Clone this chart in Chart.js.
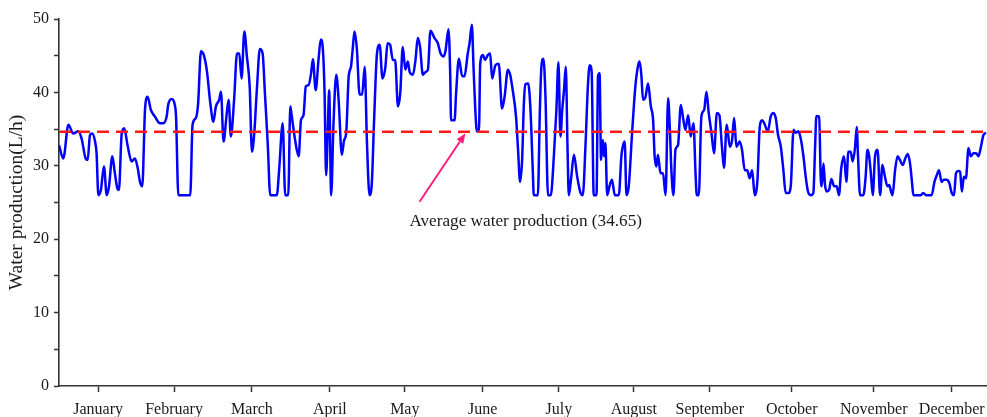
<!DOCTYPE html>
<html>
<head>
<meta charset="utf-8">
<script src="https://cdn.jsdelivr.net/npm/chart.js@4.4.1/dist/chart.umd.min.js"></script>
<style>
  html, body { margin: 0; padding: 0; background: #ffffff; }
  #wrap { width: 987px; height: 417px; position: relative; }
</style>
</head>
<body>
<div id="wrap"><canvas id="c" width="987" height="417"></canvas></div>
<script>
// ---- data ----
const months = ['January','February','March','April','May','June','July','August','September','October','November','December'];
const monthTickDays = [15.4, 45.3, 76.0, 106.7, 136.2, 166.9, 196.9, 226.4, 256.3, 288.6, 320.9, 351.6];

const days = [
  0.0, 1.7, 3.7, 5.6, 7.6, 8.9, 10.5, 11.3, 12.2, 13.1, 14.2, 14.8, 15.5, 16.5, 17.7, 18.8, 19.7, 21.0, 22.0, 23.0,
  23.6, 24.7, 25.7, 27.0, 28.6, 29.9, 31.0, 31.9, 32.8, 33.9, 34.9, 36.2, 37.8, 39.8, 41.1, 42.4, 43.0, 44.4, 45.6, 46.1,
  47.0, 51.7, 52.6, 53.9, 54.8, 55.9, 57.0, 58.3, 59.6, 60.8, 61.8, 63.1, 63.8, 64.8, 66.0, 66.8, 67.7, 69.0, 70.1, 71.0,
  71.9, 73.0, 74.0, 75.1, 76.0, 76.9, 78.0, 79.1, 80.2, 81.1, 82.2, 83.2, 85.8, 86.7, 88.1, 89.1, 90.3, 91.1, 91.7, 93.0,
  94.4, 95.3, 96.3, 97.2, 98.3, 99.2, 100.0, 101.1, 102.2, 103.1, 103.9, 104.6, 105.2, 105.9, 106.4, 107.2, 108.1, 109.2, 110.1, 111.4,
  112.3, 113.1, 114.1, 115.0, 115.6, 116.4, 117.3, 118.4, 119.4, 120.4, 121.3, 122.3, 123.2, 124.1, 125.2, 126.3, 127.4, 128.5, 129.4, 130.4,
  131.5, 132.4, 133.5, 134.4, 135.4, 136.4, 137.4, 138.1, 139.4, 140.4, 141.3, 142.2, 143.3, 144.4, 145.3, 146.3, 147.9, 149.2, 150.3, 151.5,
  152.2, 153.4, 154.1, 154.4, 155.8, 156.4, 157.5, 158.8, 159.7, 161.0, 161.7, 162.6, 163.3, 163.9, 164.6, 165.4, 165.9, 167.0, 167.8, 168.9,
  169.8, 170.6, 171.9, 173.2, 174.5, 175.5, 176.8, 177.7, 178.7, 180.0, 180.8, 181.6, 182.4, 183.1, 183.7, 184.8, 185.7, 186.6, 187.0, 188.6,
  189.4, 190.0, 190.8, 191.6, 192.6, 193.7, 194.9, 195.9, 196.7, 197.5, 198.2, 198.9, 199.6, 200.3, 200.8, 201.7, 202.8, 204.1, 205.4, 206.3,
  207.4, 208.3, 209.0, 209.8, 210.6, 211.7, 212.3, 212.9, 213.5, 214.2, 214.7, 215.2, 215.9, 216.8, 217.8, 218.9, 220.5, 221.5, 222.8, 223.5,
  224.4, 225.7, 227.0, 228.1, 228.7, 229.4, 230.0, 231.0, 232.0, 233.1, 234.0, 234.6, 235.3, 235.9, 236.9, 237.9, 238.9, 239.9, 240.6, 241.2,
  242.0, 242.8, 243.8, 244.9, 245.8, 246.7, 247.8, 248.8, 249.9, 250.7, 251.2, 252.0, 253.0, 254.1, 255.0, 255.9, 257.0, 258.0, 259.1, 260.1,
  261.1, 261.9, 263.0, 264.2, 265.1, 265.9, 266.8, 268.1, 269.0, 270.1, 271.1, 272.0, 273.0, 274.0, 275.1, 276.0, 277.0, 278.0, 279.2, 280.3,
  281.4, 282.3, 283.2, 284.3, 285.3, 286.2, 287.3, 288.2, 289.3, 290.2, 291.2, 292.1, 293.2, 294.1, 295.0, 296.1, 297.1, 297.8, 298.3, 299.4,
  300.0, 300.4, 301.1, 301.7, 302.4, 303.3, 304.2, 305.3, 306.3, 307.2, 308.1, 309.2, 310.1, 310.9, 311.8, 312.6, 313.5, 314.2, 314.7, 315.5,
  316.8, 317.7, 318.4, 319.0, 319.7, 320.5, 321.4, 322.4, 323.4, 324.3, 325.3, 326.3, 327.0, 327.7, 328.3, 329.3, 330.3, 331.2, 332.3, 333.3,
  334.3, 335.2, 336.0, 336.5, 339.4, 340.4, 341.5, 343.7, 344.8, 345.7, 346.6, 347.6, 348.5, 349.6, 350.7, 351.6, 352.5, 353.3, 354.2, 354.9,
  355.6, 356.4, 357.2, 358.2, 359.1, 360.2, 361.2, 362.1, 363.0, 364.1, 365.1
];
const production = [
  32.8, 31.0, 35.6, 34.4, 34.7, 33.7, 31.0, 30.8, 34.2, 34.4, 33.3, 31.7, 26.0, 26.7, 29.9, 26.0, 27.2, 31.3, 29.0, 26.9,
  26.7, 34.4, 35.1, 32.8, 30.6, 31.0, 29.7, 27.8, 27.2, 37.8, 39.4, 37.6, 36.7, 35.8, 35.8, 36.7, 38.3, 39.1, 38.3, 36.7,
  26.0, 26.0, 35.6, 36.5, 38.5, 45.6, 45.1, 42.8, 38.5, 36.0, 38.1, 39.0, 40.1, 33.3, 36.9, 39.0, 34.0, 39.2, 45.3, 45.3,
  41.9, 48.3, 44.9, 40.8, 31.9, 34.4, 40.8, 45.9, 45.3, 39.9, 33.1, 26.0, 26.0, 29.4, 35.8, 26.0, 26.0, 38.1, 36.7, 33.5,
  31.3, 36.2, 36.9, 40.8, 41.0, 42.4, 44.5, 40.3, 44.4, 47.2, 46.0, 39.9, 28.7, 35.3, 40.3, 26.0, 35.6, 42.4, 39.2, 31.5,
  33.5, 34.4, 42.2, 43.5, 45.6, 48.3, 46.0, 39.7, 39.7, 43.5, 33.1, 26.0, 27.6, 36.2, 45.1, 46.5, 41.9, 43.3, 46.7, 46.5,
  44.4, 44.4, 38.1, 39.9, 46.2, 43.1, 44.2, 42.8, 42.4, 44.4, 47.4, 46.2, 42.4, 42.8, 43.1, 48.4, 47.4, 46.7, 45.3, 44.9,
  45.6, 48.6, 42.2, 36.2, 36.2, 39.9, 44.6, 42.2, 42.2, 45.3, 46.7, 49.2, 43.1, 38.1, 34.7, 34.7, 43.9, 45.1, 44.4, 45.1,
  45.3, 41.9, 43.7, 43.9, 37.8, 39.4, 43.1, 42.4, 40.3, 36.7, 32.2, 27.8, 30.8, 38.5, 41.1, 41.2, 37.6, 29.4, 26.0, 26.0,
  37.6, 43.5, 44.6, 39.4, 26.0, 26.0, 31.3, 37.6, 44.1, 34.0, 37.6, 40.3, 43.5, 32.2, 26.0, 28.3, 31.5, 28.5, 26.3, 26.0,
  33.1, 40.8, 43.7, 42.8, 26.0, 26.0, 42.2, 42.6, 30.8, 33.5, 31.3, 33.1, 26.0, 27.2, 28.1, 26.0, 26.0, 31.3, 33.3, 26.0,
  27.2, 34.4, 40.8, 43.7, 44.2, 42.2, 39.0, 39.4, 41.2, 38.1, 36.2, 31.3, 29.9, 31.5, 29.0, 29.0, 26.0, 39.2, 34.9, 29.4,
  26.0, 32.2, 32.8, 38.3, 36.5, 34.9, 36.9, 34.0, 35.8, 29.0, 26.0, 26.0, 36.7, 37.6, 40.1, 37.2, 34.4, 31.7, 37.2, 36.9,
  32.6, 29.7, 35.6, 32.6, 33.5, 36.5, 32.6, 33.3, 32.2, 29.4, 29.4, 28.3, 29.4, 26.0, 28.1, 35.3, 36.2, 35.6, 34.7, 36.7,
  37.2, 36.5, 34.2, 32.6, 29.4, 26.3, 26.3, 27.2, 34.9, 34.5, 34.7, 33.8, 31.3, 28.5, 26.5, 26.0, 26.3, 32.6, 36.8, 36.7,
  28.5, 27.2, 30.3, 27.4, 26.5, 26.7, 28.2, 27.2, 27.2, 26.0, 29.7, 31.3, 27.8, 31.9, 31.9, 30.6, 32.4, 35.3, 31.3, 26.0,
  26.0, 28.5, 32.2, 31.5, 29.2, 26.0, 31.3, 32.2, 26.0, 30.1, 28.5, 27.2, 27.4, 26.5, 26.0, 29.4, 31.3, 30.8, 30.1, 31.0,
  31.6, 30.3, 27.6, 26.0, 26.0, 26.3, 26.0, 26.0, 27.8, 28.7, 29.4, 27.8, 28.1, 28.1, 27.6, 26.3, 26.0, 29.0, 29.3, 29.2,
  26.5, 28.5, 28.3, 32.4, 31.3, 31.7, 31.7, 31.3, 32.4, 34.2, 34.5
];
const averageProduction = 34.65;
const yMin = 0, yMax = 50, yStep = 5, yLabelStep = 10;
const xMin = 0, xMax = 365.5;
const noteText = 'Average water production (34.65)';
const noteAnchor = [138.0, 22.4];      // [day, value] left-middle of the text
const arrowFrom = [142.0, 25.1];       // [day, value]
const arrowTo = [160.1, 34.45];        // [day, value]

// ---- chart ----
const serif = "'Liberation Serif', 'Times New Roman', serif";
const axisColor = '#333333';

const notePlugin = {
  id: 'avgNote',
  afterDatasetsDraw(chart) {
    const { ctx, scales: { x, y } } = chart;
    ctx.save();
    // text
    ctx.font = "17.2px " + serif;
    ctx.fillStyle = '#1a1a1a';
    ctx.textAlign = 'left';
    ctx.textBaseline = 'middle';
    ctx.fillText(noteText, x.getPixelForValue(noteAnchor[0]), y.getPixelForValue(noteAnchor[1]));
    // arrow
    const x0 = x.getPixelForValue(arrowFrom[0]), y0 = y.getPixelForValue(arrowFrom[1]);
    const x1 = x.getPixelForValue(arrowTo[0]), y1 = y.getPixelForValue(arrowTo[1]);
    const ang = Math.atan2(y1 - y0, x1 - x0);
    const headLen = 10, headHalf = 4;
    const bx = x1 - headLen * Math.cos(ang), by = y1 - headLen * Math.sin(ang);
    ctx.strokeStyle = '#ff1f7a';
    ctx.fillStyle = '#ff1f7a';
    ctx.lineWidth = 2;
    ctx.beginPath();
    ctx.moveTo(x0, y0);
    ctx.lineTo(bx, by);
    ctx.stroke();
    ctx.beginPath();
    ctx.moveTo(x1, y1);
    ctx.lineTo(bx + headHalf * Math.sin(ang), by - headHalf * Math.cos(ang));
    ctx.lineTo(bx - headHalf * Math.sin(ang), by + headHalf * Math.cos(ang));
    ctx.closePath();
    ctx.fill();
    ctx.restore();
  }
};

new Chart(document.getElementById('c'), {
  type: 'line',
  data: {
    datasets: [
      {
        label: 'Water production',
        data: days.map((d, i) => ({ x: d, y: production[i] })),
        borderColor: '#0000ff',
        borderWidth: 2.5,
        pointRadius: 0,
        cubicInterpolationMode: 'monotone',
        borderJoinStyle: 'round',
        fill: false,
        order: 2
      },
      {
        label: 'Average',
        data: [{ x: xMin, y: averageProduction }, { x: xMax, y: averageProduction }],
        borderColor: '#ff1a1a',
        borderWidth: 2.5,
        borderDash: [12, 7],
        pointRadius: 0,
        fill: false,
        order: 1
      }
    ]
  },
  options: {
    responsive: false,
    animation: false,
    devicePixelRatio: 1,
    layout: { padding: { top: 19, right: 0, bottom: 0, left: 0 } },
    plugins: { legend: { display: false }, tooltip: { enabled: false } },
    scales: {
      x: {
        type: 'linear',
        min: xMin,
        max: xMax,
        afterBuildTicks: (s) => { s.ticks = monthTickDays.map(v => ({ value: v })); },
        afterFit: (s) => { s.height = 31; s.paddingRight = 0; s.paddingLeft = 0; },
        ticks: {
          autoSkip: false,
          maxRotation: 0,
          padding: 8,
          color: '#1a1a1a',
          font: { family: serif, size: 16 },
          callback: (v, i) => months[i]
        },
        grid: { drawOnChartArea: false, drawTicks: true, tickLength: 6, tickColor: axisColor, tickWidth: 1.5 },
        border: { display: true, color: axisColor, width: 1.6 }
      },
      y: {
        min: yMin,
        max: yMax,
        afterFit: (s) => { s.width = 59; },
        ticks: {
          stepSize: yStep,
          padding: 5,
          color: '#1a1a1a',
          font: { family: serif, size: 16 },
          callback: (v) => (v % yLabelStep === 0 ? String(v) : '')
        },
        grid: { drawOnChartArea: false, drawTicks: true, tickLength: 5, tickColor: axisColor, tickWidth: 1.5 },
        border: { display: true, color: axisColor, width: 1.6 },
        title: {
          display: true,
          text: 'Water production(L/h)',
          color: '#1a1a1a',
          font: { family: serif, size: 19.5 },
          padding: { top: 5, bottom: 0 }
        }
      }
    }
  },
  plugins: [notePlugin]
});
</script>
</body>
</html>
